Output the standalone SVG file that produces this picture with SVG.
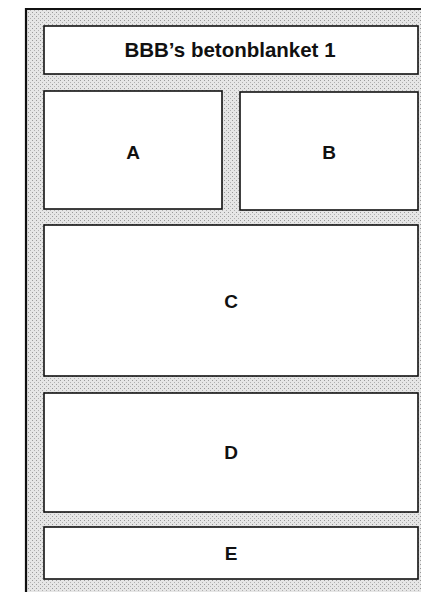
<svg xmlns="http://www.w3.org/2000/svg" width="421" height="592" viewBox="0 0 421 592">
<defs>
<pattern id="stip" width="4" height="4" patternUnits="userSpaceOnUse">
<rect width="4" height="4" fill="#e6e6e6"/>
<rect x="0" y="0" width="1" height="1" fill="#9a9a9a"/>
<rect x="2" y="2" width="1" height="1" fill="#b0b0b0"/>
</pattern>
</defs>
<style>
.box{fill:#fff;stroke:#111;stroke-width:1.6}
.lbl{font-family:"Liberation Sans",Arial,sans-serif;font-weight:bold;font-size:19px;fill:#111;text-anchor:middle}
.title{font-size:20.5px}
</style>
<rect x="0" y="0" width="421" height="592" fill="#fff"/>
<rect x="26" y="9" width="400" height="590" fill="url(#stip)"/>
<path d="M26,592 V9 H421" fill="none" stroke="#111" stroke-width="2.2"/>
<g id="title">
<rect class="box" x="44" y="26" width="374" height="48"/>
<text class="lbl title" x="230" y="57">BBB’s betonblanket 1</text>
</g>
<g id="A">
<rect class="box" x="44" y="91" width="178" height="118"/>
<text class="lbl" x="133" y="159">A</text>
</g>
<g id="B">
<rect class="box" x="240" y="92" width="178" height="118"/>
<text class="lbl" x="329" y="159">B</text>
</g>
<g id="C">
<rect class="box" x="44" y="225" width="374" height="151"/>
<text class="lbl" x="231" y="308">C</text>
</g>
<g id="D">
<rect class="box" x="44" y="393" width="374" height="119"/>
<text class="lbl" x="231" y="459">D</text>
</g>
<g id="E">
<rect class="box" x="44" y="527" width="374" height="52"/>
<text class="lbl" x="231" y="560">E</text>
</g>
<g id="connectors"/>
</svg>
